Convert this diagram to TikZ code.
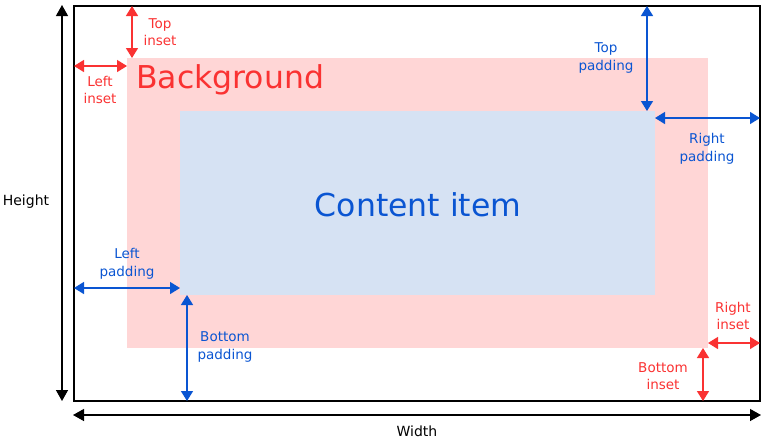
\documentclass[tikz,border=0pt]{standalone}
\usepackage{fontspec}
\setmainfont{DejaVu Sans}
\usetikzlibrary{arrows.meta}
\definecolor{rd}{RGB}{250,50,50}
\definecolor{bl}{RGB}{10,85,210}
\definecolor{pinkfill}{RGB}{255,214,214}
\definecolor{bluefill}{RGB}{214,226,243}
\tikzset{
  x=1pt,y=-1pt,
  dim/.style={line width=1.4pt,{Triangle[length=10pt,width=12pt]}-{Triangle[length=10pt,width=12pt]}},
  bdim/.style={line width=1.3pt,{Triangle[length=11pt,width=12pt]}-{Triangle[length=11pt,width=12pt]}},
  lbl/.style={font=\fontsize{13.5}{17.5}\selectfont,align=center,inner sep=0pt},
}
\begin{document}
\begin{tikzpicture}
\useasboundingbox (0,0) rectangle (764,440);
\fill[pinkfill] (127,58) rectangle (708,348);
\fill[bluefill] (180,111) rectangle (655,295);
\draw[line width=1.2pt] (74,6) rectangle (760,401);
\node[text=rd,anchor=west,font=\fontsize{31.5}{36}\selectfont,inner sep=0pt] (bg) at (136,80) {Background};
\node[text=bl,font=\fontsize{31.5}{36}\selectfont,inner sep=0pt] (ci) at (418,205) {Content item};
% coordinates
\coordinate (hT) at (62,5); \coordinate (hB) at (62,401);
\coordinate (wL) at (73,415); \coordinate (wR) at (761,415);
\coordinate (tiT) at (132,6); \coordinate (tiB) at (132,58);
\coordinate (liL) at (74,66); \coordinate (liR) at (127,66);
\coordinate (tpT) at (647,6); \coordinate (tpB) at (647,111);
\coordinate (rpL) at (655,118); \coordinate (rpR) at (760,118);
\coordinate (lpL) at (74,288); \coordinate (lpR) at (180,288);
\coordinate (bpT) at (187,295); \coordinate (bpB) at (187,401);
\coordinate (riL) at (708,343); \coordinate (riR) at (760,343);
\coordinate (biT) at (703,348); \coordinate (biB) at (703,401);
% black dimensions
\draw[bdim,black] (hT) -- (hB);
\draw[bdim,black] (wL) -- (wR);
\node[lbl,font=\fontsize{14}{18}\selectfont] (hl) at (26,202) {Height};
\node[lbl,font=\fontsize{14}{18}\selectfont] (wl) at (417,431) {Width};
% red
\draw[dim,rd] (tiT) -- (tiB);
\draw[dim,rd] (liL) -- (liR);
\draw[dim,rd] (riL) -- (riR);
\draw[dim,rd] (biT) -- (biB);
\node[lbl,text=rd] (til) at (160,32) {Top\\inset};
\node[lbl,text=rd] (lil) at (100,90) {Left\\inset};
\node[lbl,text=rd] (ril) at (733,316) {Right\\inset};
\node[lbl,text=rd] (bil) at (663,376) {Bottom\\inset};
% blue
\draw[dim,bl] (tpT) -- (tpB);
\draw[dim,bl] (rpL) -- (rpR);
\draw[dim,bl] (lpL) -- (lpR);
\draw[dim,bl] (bpT) -- (bpB);
\node[lbl,text=bl] (tpl) at (606,58) {Top\\padding};
\node[lbl,text=bl] (rpl) at (707,149) {Right\\padding};
\node[lbl,text=bl] (lpl) at (127,264) {Left\\padding};
\node[lbl,text=bl] (bpl) at (225,347) {Bottom\\padding};
\end{tikzpicture}
\end{document}
